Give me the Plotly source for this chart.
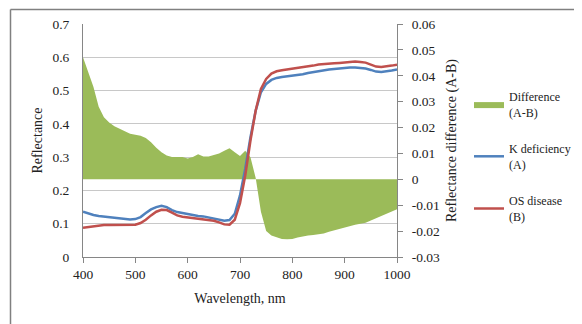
import plotly.graph_objects as go

wavelength = list(range(400, 1001, 10))

k_deficiency = [
    0.136, 0.130, 0.126, 0.123, 0.121, 0.119, 0.117, 0.115, 0.114, 0.113,
    0.114, 0.120, 0.132, 0.143, 0.150, 0.154, 0.150, 0.141, 0.135, 0.132,
    0.128, 0.125, 0.123, 0.122, 0.119, 0.116, 0.113, 0.109, 0.111, 0.130,
    0.185, 0.265, 0.360, 0.440, 0.495, 0.520, 0.532, 0.538, 0.541, 0.543,
    0.544, 0.546, 0.549, 0.553, 0.556, 0.559, 0.561, 0.563, 0.565, 0.567,
    0.568, 0.569, 0.569, 0.568, 0.566, 0.562, 0.557, 0.556, 0.557, 0.560,
    0.563,
]

os_disease = [
    0.088, 0.090, 0.092, 0.095, 0.096, 0.096, 0.096, 0.096, 0.095, 0.096,
    0.097, 0.102, 0.112, 0.125, 0.136, 0.142, 0.141, 0.133, 0.125, 0.121,
    0.119, 0.117, 0.114, 0.112, 0.111, 0.109, 0.104, 0.098, 0.097, 0.112,
    0.162, 0.245, 0.350, 0.440, 0.505, 0.535, 0.551, 0.558, 0.561, 0.563,
    0.565, 0.567, 0.569, 0.572, 0.575, 0.578, 0.580, 0.581, 0.582, 0.583,
    0.585, 0.586, 0.587, 0.586, 0.584, 0.578, 0.572, 0.571, 0.572, 0.575,
    0.578,
]

difference = [
    0.0472, 0.0410, 0.0357, 0.0280, 0.0240, 0.0220, 0.0205, 0.0195, 0.0185, 0.0176,
    0.0172, 0.0168, 0.0160, 0.0143, 0.0122, 0.0105, 0.0092, 0.0086, 0.0086, 0.0086,
    0.0080, 0.0086, 0.0097, 0.0088, 0.0088, 0.0093, 0.0100, 0.0110, 0.0120, 0.0105,
    0.0090, 0.0110, 0.0085, 0.0005, -0.0125, -0.0200, -0.0217, -0.0224, -0.0230, -0.0231,
    -0.0230, -0.0225, -0.0220, -0.0217, -0.0215, -0.0212, -0.0209, -0.0202, -0.0196, -0.0190,
    -0.0184, -0.0179, -0.0175, -0.0172, -0.0168, -0.0159, -0.0150, -0.0141, -0.0132, -0.0124,
    -0.0116,
]

x_ticks = [400, 500, 600, 700, 800, 900, 1000]
refl_ticks = [0, 0.1, 0.2, 0.3, 0.4, 0.5, 0.6, 0.7]
refl_labels = ["0", "0.1", "0.2", "0.3", "0.4", "0.5", "0.6", "0.7"]
diff_ticks = [-0.03, -0.02, -0.01, 0, 0.01, 0.02, 0.03, 0.04, 0.05, 0.06]
diff_labels = ["-0.03", "-0.02", "-0.01", "0", "0.01", "0.02", "0.03", "0.04", "0.05", "0.06"]

# page is rendered with an 8px body margin; work in page pixels
OFF = 8
PAGE_W, PAGE_H = 582, 324
W, H = PAGE_W - OFF, PAGE_H - OFF
PL, PR, PT, PB = 83, 397, 24, 257          # plot area in page pixels
ML, MT = PL - OFF, PT - OFF
PW, PH = PR - PL, PB - PT
MR, MB = W - ML - PW, H - MT - PH
FONT = "Liberation Serif"
AXC = "#868686"
TXT = "#222222"


def px_x(px):
    return (px - PL) / PW


def px_y(py):
    return (PB - py) / PH


tick_font = dict(family=FONT, size=13.5, color=TXT)
title_font = dict(family=FONT, size=14, color=TXT)

fig = go.Figure()
fig.add_trace(go.Scatter(
    x=wavelength, y=difference, name="Difference<br>(A-B)",
    mode="lines", fill="tozeroy", fillcolor="#9BBB59",
    line=dict(width=0, color="#9BBB59"), yaxis="y", legendgroup="g1",
))
fig.add_trace(go.Scatter(
    x=wavelength, y=k_deficiency, name="K deficiency<br>(A)",
    mode="lines", line=dict(color="#4F81BD", width=2.5), yaxis="y2", legendgroup="g2",
))
fig.add_trace(go.Scatter(
    x=wavelength, y=os_disease, name="OS disease<br>(B)",
    mode="lines", line=dict(color="#C0504D", width=2.5), yaxis="y2", legendgroup="g3",
))

fig.update_layout(
    width=W, height=H,
    margin=dict(l=ML, r=MR, t=MT, b=MB, pad=0, autoexpand=False),
    paper_bgcolor="white", plot_bgcolor="white",
    font=dict(family=FONT, size=13, color=TXT),
    xaxis=dict(
        range=[400, 1000], tickvals=x_ticks, ticks="outside", ticklen=5,
        tickcolor=AXC, showline=True, linecolor=AXC, linewidth=1,
        showgrid=False, zeroline=False, tickfont=tick_font,
        title=dict(text="Wavelength, nm", font=title_font, standoff=11),
    ),
    yaxis=dict(
        range=[-0.03, 0.06], side="right", tickvals=diff_ticks, ticktext=diff_labels,
        ticks="outside", ticklen=5, tickcolor=AXC, showline=True, linecolor=AXC,
        showgrid=False, zeroline=False, tickfont=tick_font, ticklabelstandoff=6,
        title=dict(text="Reflectance difference (A-B)", font=title_font, standoff=7),
    ),
    yaxis2=dict(
        range=[0, 0.7], side="left", overlaying="y", tickvals=refl_ticks, ticktext=refl_labels,
        ticks="", showline=True, linecolor=AXC, showgrid=True, gridcolor="#C8C8C8",
        zeroline=False, tickfont=tick_font, ticklabelstandoff=10,
        title=dict(text="Reflectance", font=title_font, standoff=6),
    ),
    legend=dict(
        x=px_x(469), xanchor="left", y=px_y(82), yanchor="top",
        font=dict(family=FONT, size=12, color=TXT), traceorder="grouped",
        tracegroupgap=18, bgcolor="rgba(0,0,0,0)", borderwidth=0,
    ),
    showlegend=True,
    shapes=[
        dict(type="line", xref="paper", yref="paper",
             x0=px_x(10.5), x1=px_x(PAGE_W), y0=px_y(9.5), y1=px_y(9.5),
             line=dict(color="#808080", width=1.5)),
        dict(type="line", xref="paper", yref="paper",
             x0=px_x(10.5), x1=px_x(10.5), y0=px_y(9.5), y1=px_y(PAGE_H),
             line=dict(color="#808080", width=1.5)),
    ],
)

fig.write_html("out.html")
